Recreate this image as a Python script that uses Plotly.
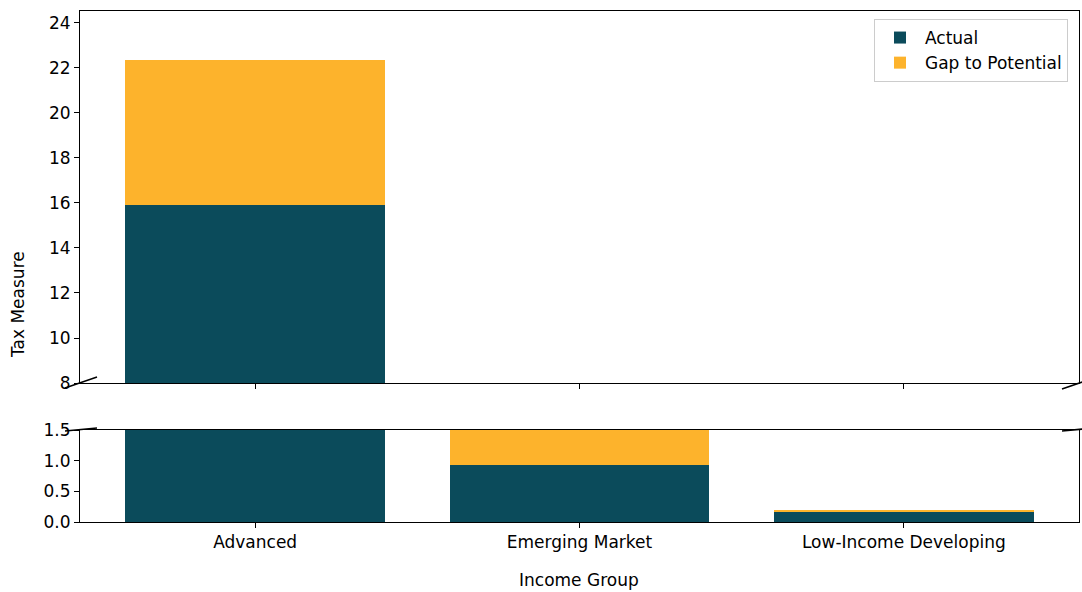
import plotly.graph_objects as go

categories = ["Advanced", "Emerging Market", "Low-Income Developing"]
actual = [15.9, 0.93, 0.17]
gap = [6.45, 0.9, 0.03]

teal = "#0b4b5b"
orange = "#fdb32c"

fig = go.Figure()
for yax, show in (("y", True), ("y2", False)):
    xa = "x" if yax == "y" else "x2"
    fig.add_trace(go.Bar(x=categories, y=actual, name="Actual", marker=dict(color=teal, line=dict(width=0)),
                         width=0.8, xaxis=xa, yaxis=yax, showlegend=show, legendgroup="a"))
    fig.add_trace(go.Bar(x=categories, y=gap, name="Gap to Potential", marker=dict(color=orange, line=dict(width=0)),
                         width=0.8, xaxis=xa, yaxis=yax, showlegend=show, legendgroup="g"))

font = dict(family="DejaVu Sans", size=17, color="black")
axcommon = dict(showline=True, linecolor="black", linewidth=1, mirror=True, ticks="outside",
                ticklen=5, tickcolor="black", showgrid=False, zeroline=False, tickfont=font)

W, H = 1082, 592
l, r, t, b = 80, 3, 11, 70
pw, ph = W - l - r, H - t - b
def px(xp):
    return (xp - l) / pw
def py(yp):
    return (H - b - yp) / ph

fig.update_layout(
    template="none",
    barmode="stack",
    width=W, height=H,
    margin=dict(l=l, r=r, t=t, b=b),
    paper_bgcolor="white", plot_bgcolor="white",
    font=font,
    bargap=0.2,
    xaxis=dict(anchor="y", domain=[0, 1], range=[-0.54, 2.54], showticklabels=False, matches="x2", **axcommon),
    yaxis=dict(domain=[0.272, 1], range=[8, 24.53], tickvals=[8, 10, 12, 14, 16, 18, 20, 22, 24], **axcommon),
    xaxis2=dict(anchor="y2", domain=[0, 1], range=[-0.54, 2.54], **axcommon),
    yaxis2=dict(domain=[0, 0.18], range=[0, 1.5], tickvals=[0, 0.5, 1.0, 1.5], tickformat=".1f", **axcommon),
    legend=dict(x=px(1068), y=py(19), xanchor="right", yanchor="top", bordercolor="#cccccc", borderwidth=1,
                bgcolor="white", font=dict(family="DejaVu Sans", size=17, color="black"), traceorder="normal",
                itemwidth=40, tracegroupgap=0),
    annotations=[
        dict(text="Tax Measure", x=px(18), y=py(305), xref="paper", yref="paper", showarrow=False,
             textangle=-90, font=font, xanchor="center", yanchor="middle"),
        dict(text="Income Group", x=px(579), y=py(580), xref="paper", yref="paper", showarrow=False,
             font=font, xanchor="center", yanchor="middle"),
    ],
)

# break marks
marks = [((65, 388), (97, 377)), ((65, 431), (97, 428)),
         ((1062, 389), (1094, 378)), ((1062, 431), (1094, 428))]
for (x0, y0), (x1, y1) in marks:
    fig.add_shape(type="line", xref="paper", yref="paper", x0=px(x0), y0=py(y0), x1=px(x1), y1=py(y1),
                  line=dict(color="black", width=1.5))

fig.write_html("out.html")
